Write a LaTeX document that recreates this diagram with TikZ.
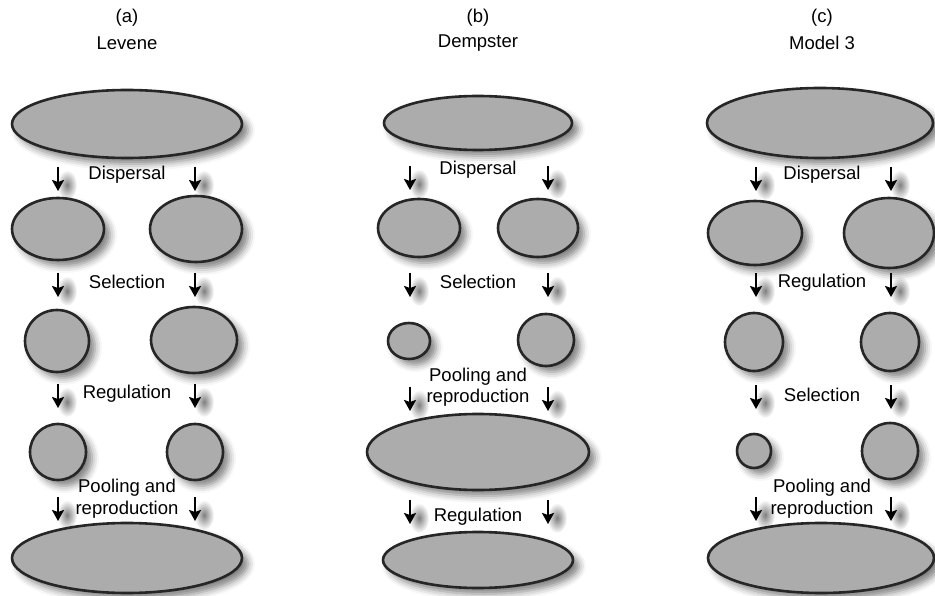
\documentclass[tikz,border=0pt]{standalone}
\usepackage{fontspec}
\setmainfont{Liberation Sans}
\usetikzlibrary{positioning,arrows.meta,shapes.geometric,shadows.blur,fadings}
\definecolor{popgray}{RGB}{172,172,172}
\tikzfading[name=softblob, inner color=transparent!0, outer color=transparent!100]

\begin{document}
\begin{tikzpicture}[x=1pt,y=-1pt]
			\tikzstyle{pop} = [draw=black!85, line width=2.6pt, fill=popgray, ellipse, inner sep=0pt, blur shadow={shadow xshift=6pt, shadow yshift=-6pt, shadow blur radius=7pt, shadow opacity=50}]
			\tikzstyle{lab} = [font=\fontsize{18.5}{21}\selectfont, inner sep=0pt]
			\tikzstyle{down} = [-{Stealth[length=11pt,width=12pt,inset=2pt]}, line width=2.3pt]
			\tikzstyle{smudge} = [black, opacity=0.5, path fading=softblob]
			\useasboundingbox (0,0) rectangle (935,596);
			% arrow shadows first
			\foreach \x in {58,195}
				\foreach \y in {167,273,384,497}
					\fill[smudge](\x+9,\y+18) ellipse (10 and 15);
			\foreach \x in {410,548}
				\foreach \y in {166,273,387,500}
					\fill[smudge](\x+9,\y+18) ellipse (10 and 15);
			\foreach \x in {756,891}
				\foreach \y in {167,273,385,497}
					\fill[smudge](\x+9,\y+18) ellipse (10 and 15);
			% (a) Levene
			\node[lab](ta) at (127,18){(a)};
			\node[lab](na) at (127,43){Levene};
			\node[pop, minimum width=230, minimum height=68](a0) at (127,124){};
			\node[pop, minimum width=92, minimum height=62](a1l) at (58,229){};
			\node[pop, minimum width=92, minimum height=66](a1r) at (196,229){};
			\node[pop, minimum width=64, minimum height=62](a2l) at (57,341){};
			\node[pop, minimum width=86, minimum height=66](a2r) at (194,340){};
			\node[pop, minimum width=56, minimum height=56](a3l) at (58,452){};
			\node[pop, minimum width=56, minimum height=56](a3r) at (195,452){};
			\node[pop, minimum width=230, minimum height=70](a4) at (127,558){};
			\node[lab](da) at (127,175){Dispersal};
			\node[lab](sa) at (127,282){Selection};
			\node[lab](ra) at (127,394){Regulation};
			\node[lab](pa) at (127,488){Pooling and};
			\node[lab](qa) at (127,510){reproduction};
			\foreach \x/\s in {58/l,195/r}
				\foreach \y/\r in {167/1,273/2,384/3,497/4}{
					\coordinate (ah\r\s) at (\x,\y);
					\draw[down](ah\r\s) -- ++(0,24);
				}
			% (b) Dempster
			\node[lab](tb) at (478,18){(b)};
			\node[lab](nb) at (478,43){Dempster};
			\node[pop, minimum width=188, minimum height=54](b0) at (478,123){};
			\node[pop, minimum width=82, minimum height=58](b1l) at (419,228){};
			\node[pop, minimum width=80, minimum height=58](b1r) at (538,228){};
			\node[pop, minimum width=42, minimum height=36](b2l) at (409,341){};
			\node[pop, minimum width=56, minimum height=52](b2r) at (546,340){};
			\node[pop, minimum width=222, minimum height=76](b3) at (478,452){};
			\node[pop, minimum width=190, minimum height=56](b4) at (478,560){};
			\node[lab](db) at (478,170){Dispersal};
			\node[lab](sb) at (478,282){Selection};
			\node[lab](pb) at (478,377){Pooling and};
			\node[lab](qb) at (478,398){reproduction};
			\node[lab](rb) at (478,517){Regulation};
			\foreach \x/\s in {410/l,548/r}
				\foreach \y/\r in {166/1,273/2,387/3,500/4}{
					\coordinate (bh\r\s) at (\x,\y);
					\draw[down](bh\r\s) -- ++(0,24);
				}
			% (c) Model 3
			\node[lab](tc) at (822,18){(c)};
			\node[lab](nc) at (822,43){Model 3};
			\node[pop, minimum width=226, minimum height=70](c0) at (820,123){};
			\node[pop, minimum width=94, minimum height=64](c1l) at (755,233){};
			\node[pop, minimum width=90, minimum height=70](c1r) at (889,233){};
			\node[pop, minimum width=58, minimum height=58](c2l) at (754,342){};
			\node[pop, minimum width=58, minimum height=58](c2r) at (890,342){};
			\node[pop, minimum width=34, minimum height=34](c3l) at (754,451){};
			\node[pop, minimum width=56, minimum height=56](c3r) at (890,451){};
			\node[pop, minimum width=226, minimum height=70](c4) at (821,558){};
			\node[lab](dc) at (822,175){Dispersal};
			\node[lab](rc) at (822,283){Regulation};
			\node[lab](sc) at (822,395){Selection};
			\node[lab](pc) at (822,488){Pooling and};
			\node[lab](qc) at (822,510){reproduction};
			\foreach \x/\s in {756/l,891/r}
				\foreach \y/\r in {167/1,273/2,385/3,497/4}{
					\coordinate (ch\r\s) at (\x,\y);
					\draw[down](ch\r\s) -- ++(0,24);
				}
		\end{tikzpicture}
\end{document}
